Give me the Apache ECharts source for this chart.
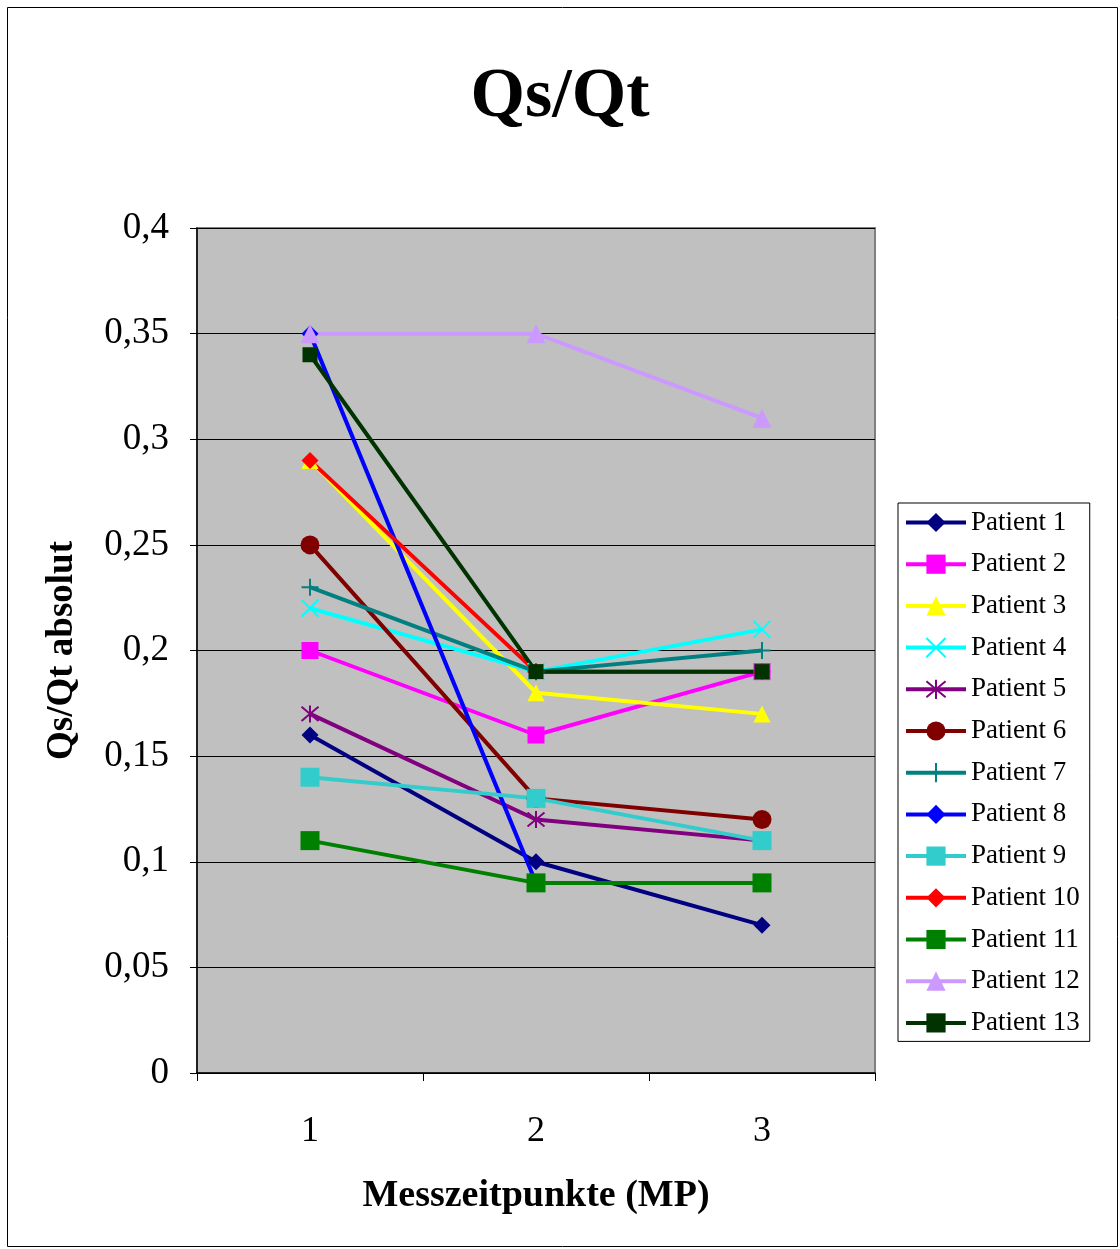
<!DOCTYPE html>
<html>
<head>
<meta charset="utf-8">
<script src="https://cdn.jsdelivr.net/npm/echarts@6/dist/echarts.min.js"></script>
<style>
  html, body { margin: 0; padding: 0; background: #fff; }
  #chart { width: 1120px; height: 1249px; }
</style>
</head>
<body>
<div id="chart"></div>
<script>
// Messzeitpunkte
const categories = ['1', '2', '3']
const patientNames = ['Patient 1', 'Patient 2', 'Patient 3', 'Patient 4', 'Patient 5', 'Patient 6', 'Patient 7',
  'Patient 8', 'Patient 9', 'Patient 10', 'Patient 11', 'Patient 12', 'Patient 13']
const patient1 = [0.16, 0.10, 0.07]
const patient2 = [0.20, 0.16, 0.19]
const patient3 = [0.29, 0.18, 0.17]
const patient4 = [0.22, 0.19, 0.21]
const patient5 = [0.17, 0.12, 0.11]
const patient6 = [0.25, 0.13, 0.12]
const patient7 = [0.23, 0.19, 0.20]
const patient8 = [0.35, 0.09, 0.09]
const patient9 = [0.14, 0.13, 0.11]
const patient10 = [0.29, 0.19, 0.19]
const patient11 = [0.11, 0.09, 0.09]
const patient12 = [0.35, 0.35, 0.31]
const patient13 = [0.34, 0.19, 0.19]
const yTicks = [0, 0.05, 0.1, 0.15, 0.2, 0.25, 0.3, 0.35, 0.4]

const allValues = [patient1, patient2, patient3, patient4, patient5, patient6, patient7,
  patient8, patient9, patient10, patient11, patient12, patient13]

const colors = ['#000080', '#FF00FF', '#FFFF00', '#00FFFF', '#800080', '#800000', '#008080',
  '#0000FF', '#33CCCC', '#FF0000', '#008000', '#CC99FF', '#003300']

// Excel-Markierungen
const xMark = 'path://M0 0 L10 10 M10 0 L0 10'
const starMark = 'path://M0 0 L10 10 M10 0 L0 10 M5 -1 L5 11'
const plusMark = 'path://M5 0 L5 10 M0 5 L10 5'
const symbols = ['diamond', 'rect', 'triangle', xMark, starMark, 'circle', plusMark,
  'diamond', 'rect', 'diamond', 'rect', 'triangle', 'rect']
const symbolSizes = [17, 17, 17, 17, 17, 19, 17, 17, 19, 17, 19, 19, 15]
const stroked = [false, false, false, true, true, false, true, false, false, false, false, false, false]

const serif = '"Liberation Serif", "DejaVu Serif", serif'

const chart = echarts.init(document.getElementById('chart'))

const series = allValues.map((vals, i) => ({
  name: patientNames[i],
  type: 'line',
  data: vals,
  symbol: symbols[i],
  symbolSize: symbolSizes[i],
  showAllSymbol: true,
  lineStyle: { color: colors[i], width: 4 },
  itemStyle: stroked[i]
    ? { color: 'rgba(0,0,0,0)', borderColor: colors[i], borderWidth: 2 }
    : { color: colors[i], borderWidth: 0 },
  emphasis: { disabled: true },
  animation: false
}))

const option = {
  backgroundColor: '#fff',
  animation: false,
  title: {
    text: 'Qs/Qt',
    left: 'center',
    top: 58,
    textStyle: { fontFamily: serif, fontSize: 70, fontWeight: 'bold', color: '#000' }
  },
  graphic: [{
    type: 'rect',
    shape: { x: 7.5, y: 7.5, width: 1110, height: 1239 },
    style: { fill: 'none', stroke: '#000', lineWidth: 1 },
    silent: true
  }],
  legend: {
    orient: 'vertical',
    left: 898,
    top: 503,
    itemWidth: 60,
    itemHeight: 24,
    itemGap: 14.7,
    padding: [6, 10, 5, 6],
    borderColor: '#000',
    borderWidth: 1,
    backgroundColor: '#fff',
    lineStyle: { width: 4 },
    textStyle: { fontFamily: serif, fontSize: 27, color: '#000' },
    data: patientNames
  },
  grid: {
    left: 197, right: 245, top: 228, bottom: 176,
    show: true,
    backgroundColor: '#C0C0C0',
    borderColor: '#808080',
    borderWidth: 2
  },
  xAxis: {
    type: 'category',
    data: categories,
    boundaryGap: true,
    name: 'Messzeitpunkte (MP)',
    nameLocation: 'middle',
    nameGap: 104,
    nameTextStyle: { fontFamily: serif, fontSize: 38, fontWeight: 'bold', color: '#000' },
    axisLine: { lineStyle: { color: '#000', width: 1.5 } },
    axisTick: { show: true, length: 8, lineStyle: { color: '#000' } },
    axisLabel: { fontFamily: serif, fontSize: 36, color: '#000', margin: 41 },
    splitLine: { show: false }
  },
  yAxis: {
    type: 'value',
    min: 0,
    max: 0.4,
    interval: 0.05,
    name: 'Qs/Qt absolut',
    nameLocation: 'middle',
    nameGap: 116,
    nameTextStyle: { fontFamily: serif, fontSize: 37, fontWeight: 'bold', color: '#000' },
    axisLine: { show: true, lineStyle: { color: '#000', width: 1.5 } },
    axisTick: { show: true, length: 7, lineStyle: { color: '#000' } },
    axisLabel: {
      fontFamily: serif, fontSize: 37, color: '#000', margin: 28,
      formatter: v => {
        const t = yTicks.find(k => Math.abs(k - v) < 1e-9)
        return String(t === undefined ? v : t).replace('.', ',')
      }
    },
    splitLine: { show: true, lineStyle: { color: '#000', width: 1 } }
  },
  series: series
}

chart.setOption(option)
</script>
</body>
</html>
